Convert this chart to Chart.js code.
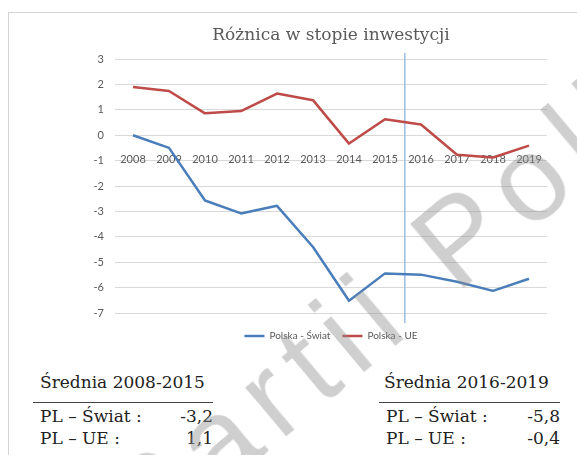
<!DOCTYPE html>
<html lang="pl">
<head>
<meta charset="UTF-8">
<title>Różnica w stopie inwestycji</title>
<script src="https://cdn.jsdelivr.net/npm/chart.js"></script>
<style>
  body { margin: 0; width: 577px; height: 455px; position: relative; overflow: hidden; background: #fff; }
  .frame { position: absolute; left: 8px; top: 12px; right: 0; bottom: 0; border-top: 1px solid #d4d4d4; border-left: 1px solid #d4d4d4; }
  #wrap { position: absolute; left: 0; top: 0; width: 577px; height: 355px; }
  .avg { position: absolute; top: 372px; font-family: 'DejaVu Serif', serif; font-size: 17px; color: #222; line-height: 20px; }
  .avg .head { height: 20px; }
  .avg .rule { margin-top: 10px; border-top: 1.5px solid #444; height: 0; }
  .avg .row { display: flex; justify-content: space-between; height: 22px; line-height: 22px; }
  .mark { position: absolute; left: 146px; top: 452px; font: 120px 'Liberation Sans', sans-serif; letter-spacing: 14px;
          color: rgba(140,140,140,0.42); white-space: nowrap; line-height: 120px; transform: rotate(-40deg); transform-origin: 0 102px; pointer-events: none; }
</style>
</head>
<body>
<div class="frame"></div>
<div id="wrap"><canvas id="myChart"></canvas></div>
<div class="avg" id="avgLeft" style="left:33px; width:180px;"></div>
<div class="avg" id="avgRight" style="left:379px; width:181px;"></div>
<div class="mark">Partii Poli</div>

<script>
// dane
const years = ['2008', '2009', '2010', '2011', '2012', '2013', '2014', '2015', '2016', '2017', '2018', '2019'];
const plSwiat = [0, -0.5, -2.57, -3.08, -2.78, -4.4, -6.52, -5.44, -5.49, -5.77, -6.13, -5.65];
const plUe = [1.9, 1.74, 0.86, 0.95, 1.64, 1.38, -0.33, 0.63, 0.42, -0.77, -0.88, -0.41];
const yMin = -7, yMax = 3;
const splitAt = 7.55; // granica 2015 / 2016

// srednie (tekst pod wykresem)
const avgRows = ['PL – Świat :', 'PL – UE :'];
const avg0815 = ['-3,2', '1,1'];
const avg1619 = ['-5,8', '-0,4'];

function fillAvg(el, title, vals, indent) {
    let html = '<div class="head" style="padding-left:' + indent + 'px">' + title + '</div><div class="rule"></div><div style="height:2px"></div>';
    avgRows.forEach((r, i) => {
        html += '<div class="row"><span style="padding-left:7px">' + r + '</span><span>' + vals[i] + '</span></div>';
    });
    el.innerHTML = html;
}
fillAvg(document.getElementById('avgLeft'), 'Średnia 2008-2015', avg0815, 7);
fillAvg(document.getElementById('avgRight'), 'Średnia 2016-2019', avg1619, 5);

const gray = '#595959';

// pionowa linia
const splitLine = {
    id: 'splitLine',
    beforeDatasetsDraw(chart) {
        const { ctx, chartArea, scales } = chart;
        const x = scales.x.getPixelForValue(splitAt);
        ctx.save();
        ctx.strokeStyle = '#9dbde3';
        ctx.lineWidth = 1.5;
        ctx.beginPath();
        ctx.moveTo(x, chartArea.top - 6);
        ctx.lineTo(x, chartArea.bottom + 10);
        ctx.stroke();
        ctx.restore();
    }
};

const ctx = document.getElementById('myChart');

new Chart(ctx, {
    type: 'line',
    data: {
        labels: years,
        datasets: [
            { label: 'Polska - Świat', data: plSwiat, borderColor: '#4a7ebb', backgroundColor: '#4a7ebb', borderWidth: 2.5, pointRadius: 0, tension: 0, borderJoinStyle: 'round' },
            { label: 'Polska - UE', data: plUe, borderColor: '#be4b48', backgroundColor: '#be4b48', borderWidth: 2.5, pointRadius: 0, tension: 0, borderJoinStyle: 'round' },
        ]
    },
    options: {
        responsive: true,
        maintainAspectRatio: false,
        animation: false,
        layout: { padding: { top: 25, right: 30, left: 0, bottom: 4 } },
        plugins: {
            title: {
                display: true,
                fullSize: false,
                text: 'Różnica w stopie inwestycji',
                color: gray,
                font: { family: 'DejaVu Serif', size: 17, weight: 'normal' },
                padding: { top: 0, bottom: 13.6 },
            },
            legend: {
                position: 'bottom',
                fullSize: false,
                labels: {
                    usePointStyle: true,
                    pointStyle: 'line',
                    pointStyleWidth: 20,
                    color: gray,
                    font: { family: 'Lato', size: 10 },
                    padding: 12,
                },
            },
            tooltip: { enabled: false },
        },
        scales: {
            x: {
                type: 'category',
                position: { y: 0 },
                offset: true,
                grid: { display: false },
                border: { display: false },
                ticks: { color: gray, font: { family: 'Lato', size: 11 }, padding: 10, maxRotation: 0, autoSkip: false },
            },
            x2: {
                type: 'category',
                position: 'bottom',
                grid: { display: false },
                border: { display: false },
                ticks: { display: false },
                afterFit: (s) => { s.height = 6; },
            },
            y: {
                min: yMin,
                max: yMax,
                grid: { color: '#d9d9d9', lineWidth: 1, drawTicks: false },
                border: { display: false },
                ticks: { stepSize: 1, color: gray, font: { family: 'Lato', size: 11 }, padding: 11 },
                afterFit: (s) => { s.width = 115; },
            },
        },
    },
    plugins: [splitLine],
});
</script>
</body>
</html>
